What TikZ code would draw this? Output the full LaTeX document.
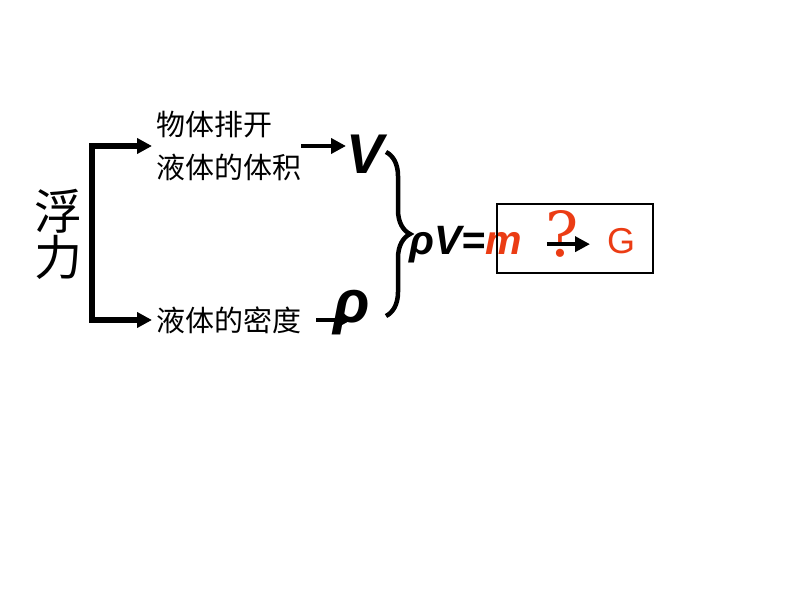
\documentclass[tikz,border=0pt]{standalone}
\usepackage{fontspec}
\setmainfont{Liberation Sans}
\newfontfamily\cjk{Noto Sans CJK SC}
\newfontfamily\serifq{DejaVu Serif}
\usetikzlibrary{arrows.meta,decorations.pathreplacing,backgrounds}
\definecolor{pRed}{RGB}{235,60,20}

\begin{document}
\begin{tikzpicture}[x=1pt,y=-1pt,
    arr/.style={line width=4.5pt,-{Triangle[length=15pt,width=15pt]}},
    cn/.style={font={\cjk\fontsize{29}{43}\selectfont},inner sep=0pt,align=left},
    bigsym/.style={font={\fontsize{56}{56}\selectfont\bfseries\itshape},inner sep=0pt}]
    \useasboundingbox (0,0) rectangle (794,596);

    % Left title and the two branches
    \node[font={\cjk\fontsize{48}{46}\selectfont},align=center,inner sep=0pt] (fuli) at (58,234) {浮\\力};
    \node[cn,anchor=west] (vol) at (156,146) {物体排开\\液体的体积};
    \node[cn,anchor=west] (dens) at (156,320) {液体的密度};

    % Bracket with arrows to both branches
    \draw[line width=5.5pt,{Triangle[length=15pt,width=15pt]}-{Triangle[length=15pt,width=15pt]}]
        ([xshift=-4pt]vol.west) -- ++(-60,0) |- ([xshift=-4pt]dens.west);

    % V and rho
    \node[bigsym,anchor=base west] (V) at (346,173) {V};
    \node[bigsym,font={\fontsize{60}{60}\selectfont\bfseries\itshape},anchor=base west] (rho) at (333,322) {ρ};
    \draw[arr] (vol.east) -- (vol.east -| V.west);
    \begin{scope}[on background layer]
        \draw[arr] ([xshift=15pt]dens.east) -- (dens.east -| rho.center);
    \end{scope}

    % Brace
    \draw[line width=4.5pt,decorate,decoration={brace,amplitude=24pt}] (386,152) -- (386,316);

    % Formula, box and G
    \node[font={\fontsize{41}{41}\selectfont\bfseries\itshape},anchor=base west,inner sep=0pt] (eq) at (409,254) {ρV=\textcolor{pRed}{m}};
    \node[draw,line width=1.4pt,minimum width=156pt,minimum height=69pt,inner sep=0pt] (gbox) at (575,238.5) {};
    \node[pRed,font={\fontsize{36}{36}\selectfont},anchor=base west,inner sep=0pt] (g) at (607,253) {G};
    \node[pRed,font={\serifq\fontsize{62}{62}\selectfont},inner sep=0pt] (q) at (562,234) {?};
    \draw[arr] ([xshift=25pt]eq.east) -- ([xshift=-17pt]g.west |- eq.east);

\end{tikzpicture}
\end{document}
